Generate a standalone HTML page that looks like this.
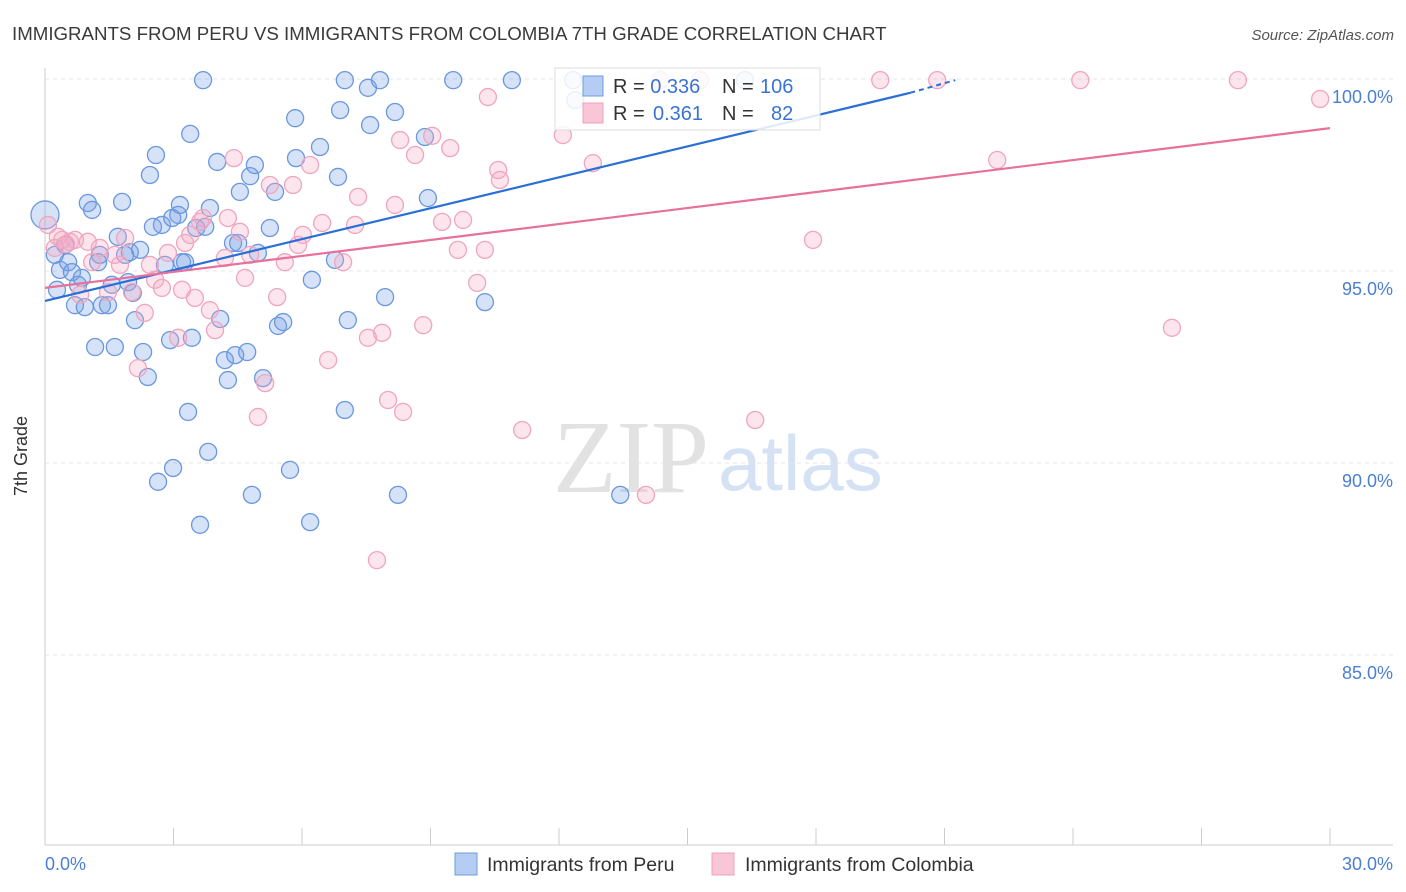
<!DOCTYPE html>
<html><head><meta charset="utf-8"><style>
body{margin:0;background:#fff;width:1406px;height:892px;overflow:hidden;font-family:"Liberation Sans",sans-serif}
svg{display:block}
</style></head><body>
<svg id="chart" width="1406" height="892">
<text x="12" y="40" font-size="18.7" fill="#3a3a3a">IMMIGRANTS FROM PERU VS IMMIGRANTS FROM COLOMBIA 7TH GRADE CORRELATION CHART</text>
<text x="1394" y="40" font-size="15" fill="#555" font-style="italic" text-anchor="end">Source: ZipAtlas.com</text>
<text x="27" y="456" font-size="18" fill="#333" transform="rotate(-90 27 456)" text-anchor="middle">7th Grade</text>
<g>
<text x="553" y="492" font-size="104" font-family="Liberation Serif,serif" fill="#e2e2e2">ZIP</text>
<text x="718" y="490" font-size="78" fill="#d4e2f4">atlas</text>
</g>
<g id="grid"></g><g id="axes"></g><g id="pts"></g><g id="lines"></g>
<g>
<rect x="555" y="68" width="265" height="62" fill="#fff" fill-opacity="0.85" stroke="#ddd"/>
<rect x="583" y="76" width="20" height="20" fill="#b5cdf2" stroke="#6f9be0"/>
<text x="613" y="93" font-size="20" fill="#333">R = <tspan fill="#3b73d4">0.336</tspan><tspan x="722">N = </tspan><tspan fill="#3b73d4" x="760">106</tspan></text>
<rect x="583" y="103" width="20" height="20" fill="#f8c6d6" stroke="#eea0ba"/>
<text x="613" y="120" font-size="20" fill="#333">R = <tspan fill="#3b73d4" x="653">0.361</tspan><tspan x="722">N = </tspan><tspan fill="#3b73d4" x="771">82</tspan></text>
</g>
<g>
<rect x="455" y="853" width="22" height="22" fill="#b5cdf2" stroke="#6f9be0"/>
<text x="487" y="871" font-size="19.5" fill="#333">Immigrants from Peru</text>
<rect x="712" y="853" width="22" height="22" fill="#f8c6d6" stroke="#eea0ba"/>
<text x="745" y="871" font-size="19.5" fill="#333">Immigrants from Colombia</text>
</g>
</svg>
<script>
const yTicks=[100,95,90,85];
const xTickLabels=["0.0%","30.0%"];
const peruX=[0,0.23,0.28,0.35,0.47,0.54,0.63,0.70,0.77,0.86,0.93,1.00,1.10,1.17,1.24,1.28,1.33,1.47,1.56,1.63,1.70,1.80,1.87,1.94,1.98,2.05,2.10,2.22,2.29,2.40,2.45,2.52,2.59,2.64,2.73,2.80,2.92,2.97,2.99,3.11,3.15,3.20,3.27,3.34,3.39,3.43,3.53,3.62,3.69,3.74,3.81,3.85,4.02,4.09,4.20,4.27,4.39,4.44,4.51,4.55,4.72,4.79,4.83,4.90,4.97,5.09,5.25,5.37,5.44,5.56,5.72,5.84,5.86,6.19,6.23,6.42,6.77,6.84,6.89,7.00,7.00,7.07,7.54,7.59,7.82,7.94,8.17,8.24,8.87,8.94,9.53,10.27,10.90,12.33,12.38,13.43,16.34];
const peruY=[96.46,95.42,94.51,95.03,95.68,95.23,94.97,94.11,94.64,94.82,94.06,96.77,96.59,93.02,95.23,95.42,94.11,94.11,94.64,93.02,95.89,96.80,95.42,94.71,95.49,94.43,93.72,95.55,92.89,92.24,97.50,96.15,98.02,89.51,96.20,95.16,93.20,96.38,89.87,96.46,96.72,95.23,95.23,91.33,98.57,93.26,96.12,88.39,99.97,96.15,90.29,96.64,97.84,93.75,92.68,92.16,95.73,92.81,95.73,97.06,92.89,97.47,89.17,97.76,95.47,92.21,96.12,97.06,93.57,93.67,89.82,98.98,97.94,88.46,94.77,98.23,95.29,97.45,99.19,99.97,91.38,93.72,99.77,98.80,99.97,94.32,99.14,89.17,98.49,96.90,99.97,94.19,99.97,99.97,99.45,89.17,99.97];
const colX=[0.07,0.23,0.30,0.40,0.49,0.58,0.70,0.82,1.00,1.10,1.28,1.47,1.63,1.75,1.87,2.03,2.17,2.33,2.45,2.57,2.73,2.87,3.11,3.20,3.27,3.39,3.50,3.62,3.69,3.85,3.97,4.20,4.27,4.41,4.55,4.67,4.79,4.97,5.14,5.25,5.42,5.60,5.79,5.91,6.02,6.19,6.47,6.61,6.96,7.24,7.31,7.54,7.75,7.87,8.01,8.17,8.29,8.36,8.64,8.83,9.04,9.27,9.46,9.64,9.76,10.09,10.27,10.34,10.58,10.62,11.14,12.09,12.79,14.03,14.36,15.29,16.58,17.93,19.50,20.83,22.23,24.17,26.31,27.85,29.77];
const colY=[96.20,95.60,95.89,95.81,95.70,95.76,95.81,94.38,95.76,95.23,95.60,94.45,95.42,95.16,95.86,94.45,92.47,93.91,95.16,94.77,94.56,95.47,93.26,94.51,95.73,95.94,94.30,96.28,96.38,93.98,93.46,95.34,96.38,97.94,96.02,94.82,95.42,91.20,92.08,97.24,94.32,95.23,97.24,95.68,95.94,97.76,96.25,92.68,95.23,96.20,96.93,93.26,87.47,93.39,91.64,96.72,98.41,91.33,98.02,93.59,98.52,96.28,98.20,95.55,96.33,94.69,95.55,99.53,97.63,97.37,90.86,98.54,97.81,89.17,99.97,99.97,91.12,95.81,99.97,99.97,97.89,99.97,93.52,99.97,99.48];
const peruLine=[0,94.22,20.2,99.64,21.25,99.97];
const colLine=[0,94.56,30,98.72];
const NS="http://www.w3.org/2000/svg";
const X=v=>45+v*1285/30, Y=v=>79+(100-v)*38.4;
function mk(tag,at,parent){const e=document.createElementNS(NS,tag);for(const k in at)e.setAttribute(k,at[k]);document.getElementById(parent).appendChild(e);return e;}
yTicks.forEach(t=>{
 const g=mk('line',{x1:45,x2:1393,y1:Y(t),y2:Y(t),stroke:'#e4e4e4','stroke-dasharray':'4,4'},'grid');
 
 
 const l=mk('text',{x:1393,y:Y(t)+24,'font-size':18,fill:'#4a7fd4','text-anchor':'end'},'axes');
 l.textContent=t.toFixed(1)+'%';
 
 
});
const ax=mk('line',{x1:45,x2:45,y1:68,y2:845,stroke:'#ccc'},'axes');


const bx=mk('line',{x1:45,x2:1393,y1:845,y2:845,stroke:'#ccc'},'axes');


for(let i=0;i<=10;i++){
 const t=mk('line',{x1:X(i*3),x2:X(i*3),y1:828,y2:845,stroke:'#ccc'},'axes');
 
 
}
const xl0=mk('text',{x:45,y:870,'font-size':18,fill:'#4a7fd4'},'axes');xl0.textContent=xTickLabels[0];


const xl1=mk('text',{x:1393,y:870,'font-size':18,fill:'#4a7fd4','text-anchor':'end'},'axes');xl1.textContent=xTickLabels[1];


peruX.forEach((x,i)=>{
 const c=mk('circle',{cx:X(x),cy:Y(peruY[i]),r:i===0?14:8.5,fill:'rgba(120,160,230,0.3)',stroke:'#6a98de','stroke-width':1.3},'pts');
 
 
});
colX.forEach((x,i)=>{
 const c=mk('circle',{cx:X(x),cy:Y(colY[i]),r:8.5,fill:'rgba(245,170,195,0.3)',stroke:'#f0a5bf','stroke-width':1.3},'pts');
 
 
});
const pl=mk('line',{x1:X(peruLine[0]),y1:Y(peruLine[1]),x2:X(peruLine[2]),y2:Y(peruLine[3]),stroke:'#2a6fd6','stroke-width':2.2},'lines');


const pd=mk('line',{x1:X(peruLine[2]),y1:Y(peruLine[3]),x2:X(peruLine[4]),y2:Y(peruLine[5]),stroke:'#2a6fd6','stroke-width':2,'stroke-dasharray':'5,4'},'lines');


const cl=mk('line',{x1:X(colLine[0]),y1:Y(colLine[1]),x2:X(colLine[2]),y2:Y(colLine[3]),stroke:'#e8709a','stroke-width':2.2},'lines');


</script>
</body></html>
